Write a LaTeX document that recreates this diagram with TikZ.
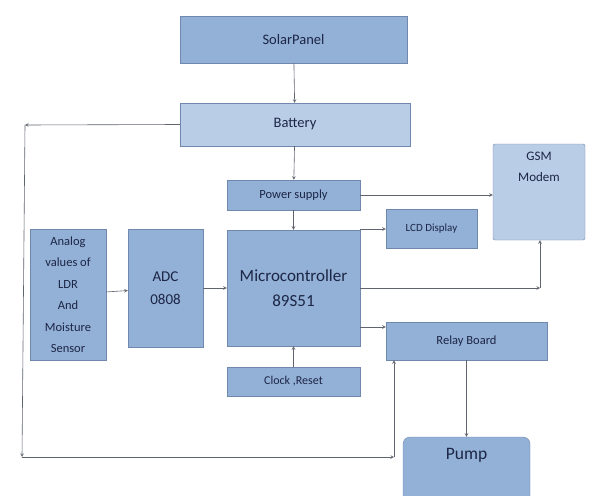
\documentclass[tikz,border=0pt]{standalone}
\usepackage{fontspec}
\setmainfont{Carlito}
\usetikzlibrary{arrows,shapes,positioning}
\definecolor{boxmid}{RGB}{147,176,214}
\definecolor{boxlight}{RGB}{186,205,230}
\definecolor{boxedge}{RGB}{112,136,172}
\definecolor{boxtext}{RGB}{28,38,70}
\definecolor{wirecol}{RGB}{95,100,110}

\begin{document}
\begin{tikzpicture}[x=1pt,y=-1pt,>=stealth,
    blk/.style={draw=boxedge,fill=boxmid,text=boxtext,align=center,inner sep=1pt},
    lite/.style={blk,fill=boxlight},
    wire/.style={draw=wirecol,->,line width=0.6pt}]
      \useasboundingbox[fill=white] (0,0) rectangle (593,495);
      % blocks
      \node[blk,minimum width=227,minimum height=47,font=\fontsize{14.5}{17}\selectfont] (solar) at (293.5,39.5) {SolarPanel};
      \node[lite,minimum width=230,minimum height=43,font=\fontsize{14.5}{17}\selectfont] (battery) at (295,124.5) {Battery};
      \node[blk,minimum width=133,minimum height=30,font=\fontsize{12.5}{15}\selectfont] (power) at (293.5,195) {Power supply};
      \node[lite,rounded corners=2pt,minimum width=92,minimum height=96] (gsm) at (539,192) {};
      \node[text=boxtext,align=center,font=\fontsize{13}{21}\selectfont,below=5pt of gsm.north] (gsmtext) {GSM\\Modem};
      \node[blk,minimum width=91,minimum height=39,font=\fontsize{11}{13}\selectfont] (lcd) at (431.5,229) {LCD Display};
      \node[blk,minimum width=76,minimum height=131,font=\fontsize{12.5}{21.5}\selectfont] (sensor) at (68,294.5) {Analog\\values of\\LDR\\And\\Moisture\\Sensor};
      \node[blk,minimum width=75,minimum height=118,font=\fontsize{15}{23}\selectfont] (adc) at (165.5,288) {ADC\\0808};
      \node[blk,minimum width=133,minimum height=116,font=\fontsize{17}{25}\selectfont] (mcu) at (293.5,288) {Microcontroller\\89S51};
      \node[blk,minimum width=161,minimum height=38,font=\fontsize{12.5}{15}\selectfont] (relay) at (466.5,341) {Relay Board};
      \node[blk,minimum width=133,minimum height=29,font=\fontsize{12}{14}\selectfont] (clock) at (293.5,381.5) {Clock ,Reset};
      \node[blk,rounded corners=7pt,minimum width=127,minimum height=70] (pump) at (466.5,472) {};
      \node[text=boxtext,font=\fontsize{17.5}{20}\selectfont,below=8pt of pump.north] (pumptext) {Pump};
      % corner points
      \coordinate (loopa) at (25,125);
      \coordinate (loopb) at (22,457);
      \coordinate (loopc) at (394,457);
      \coordinate (gsmin) at (540,288);
      % connectors
      \draw[wire] (solar) -- (battery);
      \draw[wire] (battery) -- (power);
      \draw[wire] (power) -- (mcu);
      \draw[wire] (power.east) -- (power.east -| gsm.west);
      \draw[wire] (mcu.north east |- lcd.west) -- (lcd.west);
      \draw[wire] (sensor) -- (adc);
      \draw[wire] (adc) -- (mcu);
      \draw[wire] (mcu.east |- gsmin) -- (gsmin);
      \draw[wire] (gsmin) -- (gsmin |- gsm.south);
      \draw[wire] (mcu.east |- 0,327) -- (relay.west |- 0,327);
      \draw[wire] (clock) -- (mcu);
      \draw[wire] (relay) -- (relay |- pump.north);
      \draw[wire] (battery.west) -- (loopa);
      \draw[wire] (loopa) -- (loopb);
      \draw[wire] (loopb) -- (loopc);
      \draw[wire] (loopc) -- (loopc |- relay.south);
\end{tikzpicture}
\end{document}
